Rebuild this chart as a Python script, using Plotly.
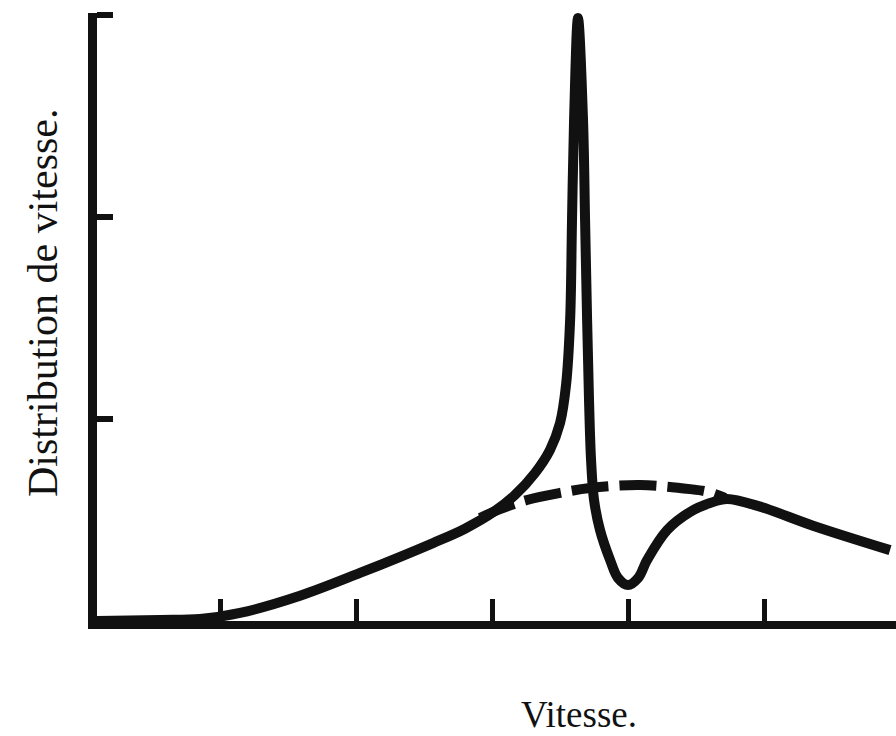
import plotly.graph_objects as go

# Velocity distribution curve (x in axis units, y in axis units)
vitesse = [0.066, 0.559, 0.853, 1.147, 1.588, 2.029, 2.566, 2.801, 3.022, 3.169,
           3.316, 3.426, 3.500, 3.544, 3.574, 3.588, 3.603, 3.632, 3.669, 3.684,
           3.699, 3.713, 3.728, 3.750, 3.794, 3.868, 3.926, 4.000, 4.074, 4.140,
           4.287, 4.456, 4.603, 4.728, 4.971, 5.360, 5.926]
distribution = [0.0, 0.005, 0.01, 0.04, 0.125, 0.238, 0.386, 0.457, 0.545, 0.624,
                0.733, 0.847, 0.980, 1.168, 1.490, 1.985, 2.480, 2.985, 2.480, 1.985,
                1.490, 1.094, 0.797, 0.599, 0.450, 0.302, 0.213, 0.178, 0.213, 0.302,
                0.450, 0.540, 0.584, 0.604, 0.566, 0.472, 0.351]

# Undisturbed distribution (dashed) bridging the resonance region
vitesse_sans = [2.912, 3.059, 3.257, 3.500, 3.721, 4.088, 4.456, 4.588, 4.713]
distribution_sans = [0.510, 0.554, 0.599, 0.634, 0.658, 0.673, 0.653, 0.639, 0.609]

x_ticks = [1, 2, 3, 4, 5]
y_ticks = [1, 2, 3]

fig = go.Figure()
fig.add_trace(go.Scatter(
    x=vitesse, y=distribution, mode="lines",
    line=dict(color="#111111", width=10, shape="spline", smoothing=1.0),
    hoverinfo="skip",
))
fig.add_trace(go.Scatter(
    x=vitesse_sans, y=distribution_sans, mode="lines",
    line=dict(color="#111111", width=10, shape="spline", smoothing=1.0, dash="37px,11px"),
    hoverinfo="skip",
))

fig.update_layout(
    width=896, height=736,
    margin=dict(l=97, r=0, t=13, b=115),
    paper_bgcolor="white", plot_bgcolor="white",
    showlegend=False,
    font=dict(family="Liberation Serif", color="#111111"),
    xaxis=dict(
        range=[0.0956, 5.97], showgrid=False, zeroline=False,
        showline=True, linewidth=8, linecolor="#111111",
        tickmode="array", tickvals=x_ticks, ticks="inside",
        ticklen=22, tickwidth=5, tickcolor="#111111", showticklabels=False,
    ),
    yaxis=dict(
        range=[0, 3.01], showgrid=False, zeroline=False,
        showline=True, linewidth=9, linecolor="#111111",
        tickmode="array", tickvals=y_ticks, ticks="inside",
        ticklen=16, tickwidth=6, tickcolor="#111111", showticklabels=False,
    ),
    annotations=[
        dict(text="Vitesse.", xref="paper", yref="paper",
             x=(579 - 97) / (896 - 97), y=-(714 - 621) / (621 - 13),
             xanchor="center", yanchor="middle", showarrow=False,
             font=dict(size=37, family="Liberation Serif", color="#111111")),
        dict(text="Distribution de vitesse.", xref="paper", yref="paper",
             x=-(97 - 43) / (896 - 97), y=(621 - 303) / (621 - 13),
             xanchor="center", yanchor="middle", showarrow=False, textangle=-90,
             font=dict(size=42, family="Liberation Serif", color="#111111")),
    ],
)

fig.write_html("out.html")
